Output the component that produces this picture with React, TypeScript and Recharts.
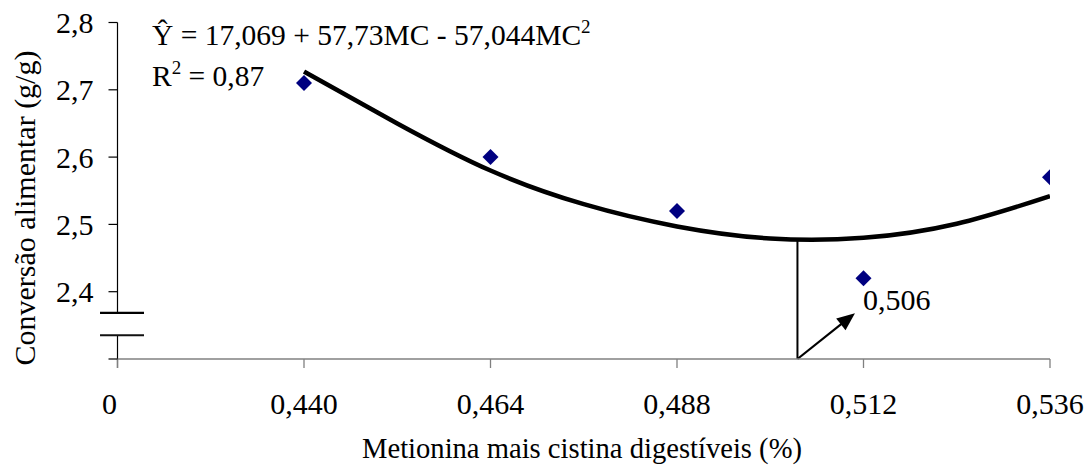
import React from 'react';
import { ComposedChart, Line, Scatter, XAxis, YAxis, ReferenceLine } from 'recharts';

const FONT = '"Liberation Serif", "Times New Roman", Times, serif';

// observed means
const observedMC = [0.44, 0.464, 0.488, 0.512, 0.536];
const observedCA = [2.71, 2.6, 2.52, 2.42, 2.57];

// fitted curve
const curveMC = [0.44, 0.452, 0.464, 0.476, 0.488, 0.5, 0.512, 0.524, 0.536];
const curveCA = [2.727, 2.65, 2.58, 2.53, 2.497, 2.479, 2.48, 2.501, 2.542];

const xTicks = [0.416, 0.44, 0.464, 0.488, 0.512, 0.536];
const yTicks = [2.3, 2.4, 2.5, 2.6, 2.7, 2.8];

const X_ORIGIN = 0.416; // shown as "0"
const Y_ORIGIN = 2.3;
const optimumMC = 0.5035;
const optimumCA = 2.478;
const optimumLabel = '0,506';
const arrowTipMC = 0.5109;
const arrowTipCA = 2.368;
const breakLow = 2.3353;
const breakHigh = 2.3686;
const breakLeft = 0.41375;
const breakRight = 0.41941;
const yAxisBottom = 2.2866;

const curveData = curveMC.map((x, i) => ({ x, y: curveCA[i] }));
const pointData = observedMC.map((x, i) => ({ x, y: observedCA[i] }));

const fmtX = (v: number) => (v === X_ORIGIN ? '0' : v.toFixed(3).replace('.', ','));
const fmtY = (v: number) => (Math.abs(v - Y_ORIGIN) < 1e-9 ? '' : v.toFixed(1).replace('.', ','));

const XTick = (props: any) => {
  const { x, y, payload } = props;
  const v = payload.value;
  const dx = v === X_ORIGIN ? -8 : 0;
  return (
    <text x={x + dx} y={y} dy="0.71em" textAnchor="middle" fontFamily={FONT} fontSize={30} fill="#000">
      {fmtX(v)}
    </text>
  );
};

const Diamond = (props: any) => {
  const { cx, cy } = props;
  const r = 8;
  return (
    <polygon
      points={`${cx},${cy - r} ${cx + r},${cy} ${cx},${cy + r} ${cx - r},${cy}`}
      fill="#000080"
    />
  );
};

const ArrowShape = (props: any) => {
  const { x1, y1, x2, y2 } = props;
  const dx = x2 - x1;
  const dy = y2 - y1;
  const len = Math.hypot(dx, dy) || 1;
  const ux = dx / len;
  const uy = dy / len;
  const L = 18;
  const W = 7.5;
  const bx = x2 - ux * L;
  const by = y2 - uy * L;
  const px = -uy;
  const py = ux;
  return (
    <g>
      <line x1={x1} y1={y1} x2={bx + ux * 2} y2={by + uy * 2} stroke="#000" strokeWidth={2.2} />
      <polygon points={`${x2},${y2} ${bx + px * W},${by + py * W} ${bx - px * W},${by - py * W}`} fill="#000" />
      <text x={x2 + 8} y={y2 - 3} fontFamily={FONT} fontSize={30} fill="#000">
        {optimumLabel}
      </text>
    </g>
  );
};

export default function App() {
  return (
    <div style={{ position: 'absolute', left: 0, top: 0, width: 1089, height: 469, background: '#fff' }}>
      <ComposedChart
        width={1089}
        height={469}
        margin={{ top: 22.5, right: 39, bottom: 0, left: 0.5 }}
      >
        <XAxis
          dataKey="x"
          type="number"
          domain={[X_ORIGIN, 0.536]}
          ticks={xTicks}
          interval={0}
          allowDataOverflow
          height={110}
          tickSize={9}
          tickMargin={25}
          axisLine={{ stroke: '#808080', strokeWidth: 1.3 }}
          tickLine={{ stroke: '#808080', strokeWidth: 1.3 }}
          tick={<XTick />}
        />
        <YAxis
          type="number"
          domain={[Y_ORIGIN, 2.8]}
          ticks={yTicks}
          interval={0}
          allowDataOverflow
          width={117}
          tickSize={9}
          tickMargin={15}
          axisLine={false}
          tickLine={{ stroke: '#000', strokeWidth: 1.2 }}
          tickFormatter={fmtY}
          tick={{ fill: '#000', fontSize: 30, fontFamily: FONT }}
        />
        {/* y axis drawn with a break */}
        <ReferenceLine
          segment={[{ x: X_ORIGIN, y: yAxisBottom }, { x: X_ORIGIN, y: breakLow }]}
          stroke="#000"
          strokeWidth={1.2}
          ifOverflow="visible"
        />
        <ReferenceLine
          segment={[{ x: X_ORIGIN, y: breakHigh }, { x: X_ORIGIN, y: 2.8 }]}
          stroke="#000"
          strokeWidth={1.2}
          ifOverflow="visible"
        />
        <ReferenceLine
          segment={[{ x: breakLeft, y: breakHigh }, { x: breakRight, y: breakHigh }]}
          stroke="#000"
          strokeWidth={2.4}
          ifOverflow="visible"
        />
        <ReferenceLine
          segment={[{ x: breakLeft, y: breakLow }, { x: breakRight, y: breakLow }]}
          stroke="#111"
          strokeWidth={2}
          ifOverflow="visible"
        />
        {/* optimum */}
        <ReferenceLine
          segment={[{ x: optimumMC, y: Y_ORIGIN }, { x: optimumMC, y: optimumCA }]}
          stroke="#000"
          strokeWidth={2}
          ifOverflow="visible"
        />
        <ReferenceLine
          segment={[{ x: optimumMC, y: Y_ORIGIN }, { x: arrowTipMC, y: arrowTipCA }]}
          stroke="#000"
          strokeWidth={2}
          ifOverflow="visible"
          shape={ArrowShape}
        />
        <Line
          data={curveData}
          dataKey="y"
          type="natural"
          stroke="#000"
          strokeWidth={4.5}
          dot={false}
          activeDot={false}
          isAnimationActive={false}
        />
        <Scatter data={pointData} dataKey="y" shape={Diamond} isAnimationActive={false} />
      </ComposedChart>
      <svg
        width={1089}
        height={469}
        style={{ position: 'absolute', left: 0, top: 0, pointerEvents: 'none' }}
      >
        <text x={152} y={45} fontFamily={FONT} fontSize={29.5} fill="#000" style={{ whiteSpace: 'pre' }}>
          Ŷ = 17,069 + 57,73MC - 57,044MC
          <tspan fontSize={19} dy={-12}>2</tspan>
        </text>
        <text x={152} y={86} fontFamily={FONT} fontSize={29.5} fill="#000" style={{ whiteSpace: 'pre' }}>
          R<tspan fontSize={19} dy={-12}>2</tspan>
          <tspan dy={12}>{' = 0,87'}</tspan>
        </text>
        <text
          x={35}
          y={208}
          transform="rotate(-90 35 208)"
          textAnchor="middle"
          fontFamily={FONT}
          fontSize={30}
          fill="#000"
        >
          Conversão alimentar (g/g)
        </text>
        <text x={582} y={458} textAnchor="middle" fontFamily={FONT} fontSize={28.6} fill="#000">
          Metionina mais cistina digestíveis (%)
        </text>
      </svg>
    </div>
  );
}
